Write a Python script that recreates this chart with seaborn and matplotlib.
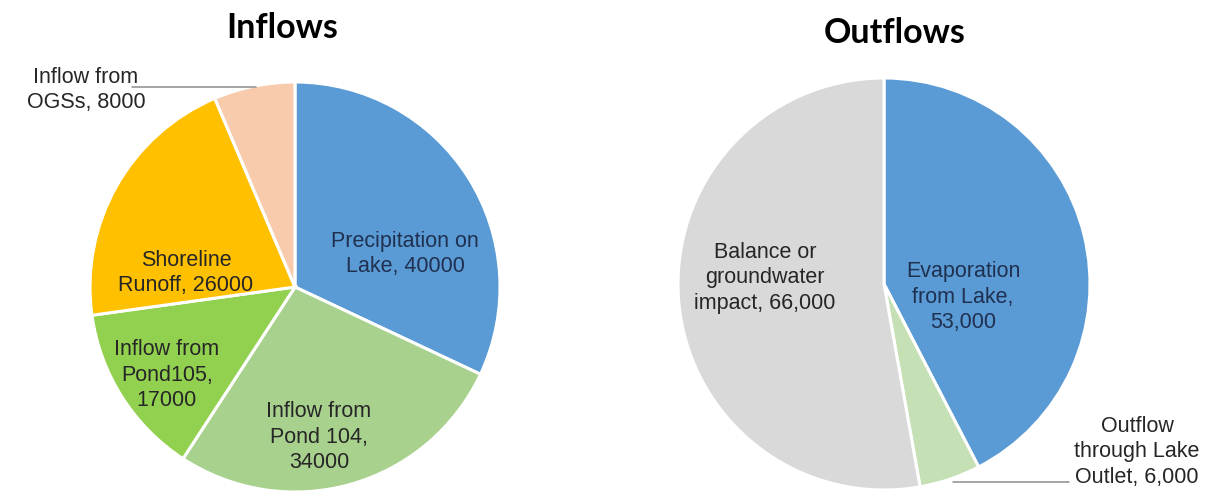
import matplotlib
matplotlib.use("Agg")
import matplotlib.pyplot as plt
import seaborn as sns

# Inflow components (m3)
inflow_names = ["Precipitation on\nLake", "Inflow from\nPond 104", "Inflow from\nPond105",
                "Shoreline\nRunoff", "Inflow from\nOGSs"]
inflow_values = [40000, 34000, 17000, 26000, 8000]
inflow_colors = ["#5B9BD5", "#A9D18E", "#92D050", "#FFC000", "#F8CBAD"]

# Outflow components (m3)
outflow_names = ["Evaporation\nfrom Lake", "Outflow\nthrough Lake\nOutlet", "Balance or\ngroundwater\nimpact"]
outflow_values = [53000, 6000, 66000]
outflow_colors = ["#5B9BD5", "#C5E0B4", "#D9D9D9"]

sns.set_theme(style="white")
plt.rcParams["font.family"] = ["Liberation Sans", "DejaVu Sans"]

W, H = 1211, 494
fig = plt.figure(figsize=(W / 100, H / 100), dpi=100)
ax = fig.add_axes([0, 0, 1, 1])


def py(y):
    # convert a top-down pixel row into the axes' upward y coordinate
    return H - y


wedge_kw = dict(edgecolor="white", linewidth=2.2)

ax.pie(inflow_values, colors=inflow_colors, startangle=90, counterclock=False,
       center=(295, py(287)), radius=205, wedgeprops=wedge_kw)
ax.pie(outflow_values, colors=outflow_colors, startangle=90, counterclock=False,
       center=(884, py(284)), radius=206, wedgeprops=wedge_kw)

ax.set_xlim(0, W)
ax.set_ylim(0, H)
ax.set_aspect("equal")
ax.axis("off")

dark = "#262626"
navy = "#1F3050"
fs = 15.5
ls = 1.28

# Inflow data labels: (x, y, colour)
inflow_label_pos = [(405, 254, navy), (319, 437, dark), (167, 375, dark),
                    (186, 273, dark), (86, 90, dark)]
for name, val, (x, y, c) in zip(inflow_names, inflow_values, inflow_label_pos):
    if "Pond" in name:
        txt = f"{name},\n{val}"
    else:
        txt = f"{name}, {val}"
    ax.text(x, py(y), txt, ha="center", va="center", fontsize=fs, color=c, linespacing=ls)

# Outflow data labels
outflow_label_pos = [(963, 297, navy), (1137, 452, dark), (765, 278, dark)]
for name, val, (x, y, c) in zip(outflow_names, outflow_values, outflow_label_pos):
    if name.startswith("Evaporation"):
        txt = f"{name},\n{val:,}"
    else:
        txt = f"{name}, {val:,}"
    ax.text(x, py(y), txt, ha="center", va="center", fontsize=fs, color=c, linespacing=ls)

# leader lines for the small slices
ax.plot([132, 256], [py(87), py(87)], color="#8C8C8C", lw=1.1)
ax.plot([953, 1069], [py(482), py(482)], color="#8C8C8C", lw=1.1)

title_kw = dict(fontsize=24.5, fontweight="bold", color="black", ha="center", va="center",
                family=["Lato", "DejaVu Sans"])
ax.text(282, py(28), "Inflows", **title_kw)
ax.text(895, py(33), "Outflows", **title_kw)

fig.savefig("out.png", dpi=100, facecolor="white")
